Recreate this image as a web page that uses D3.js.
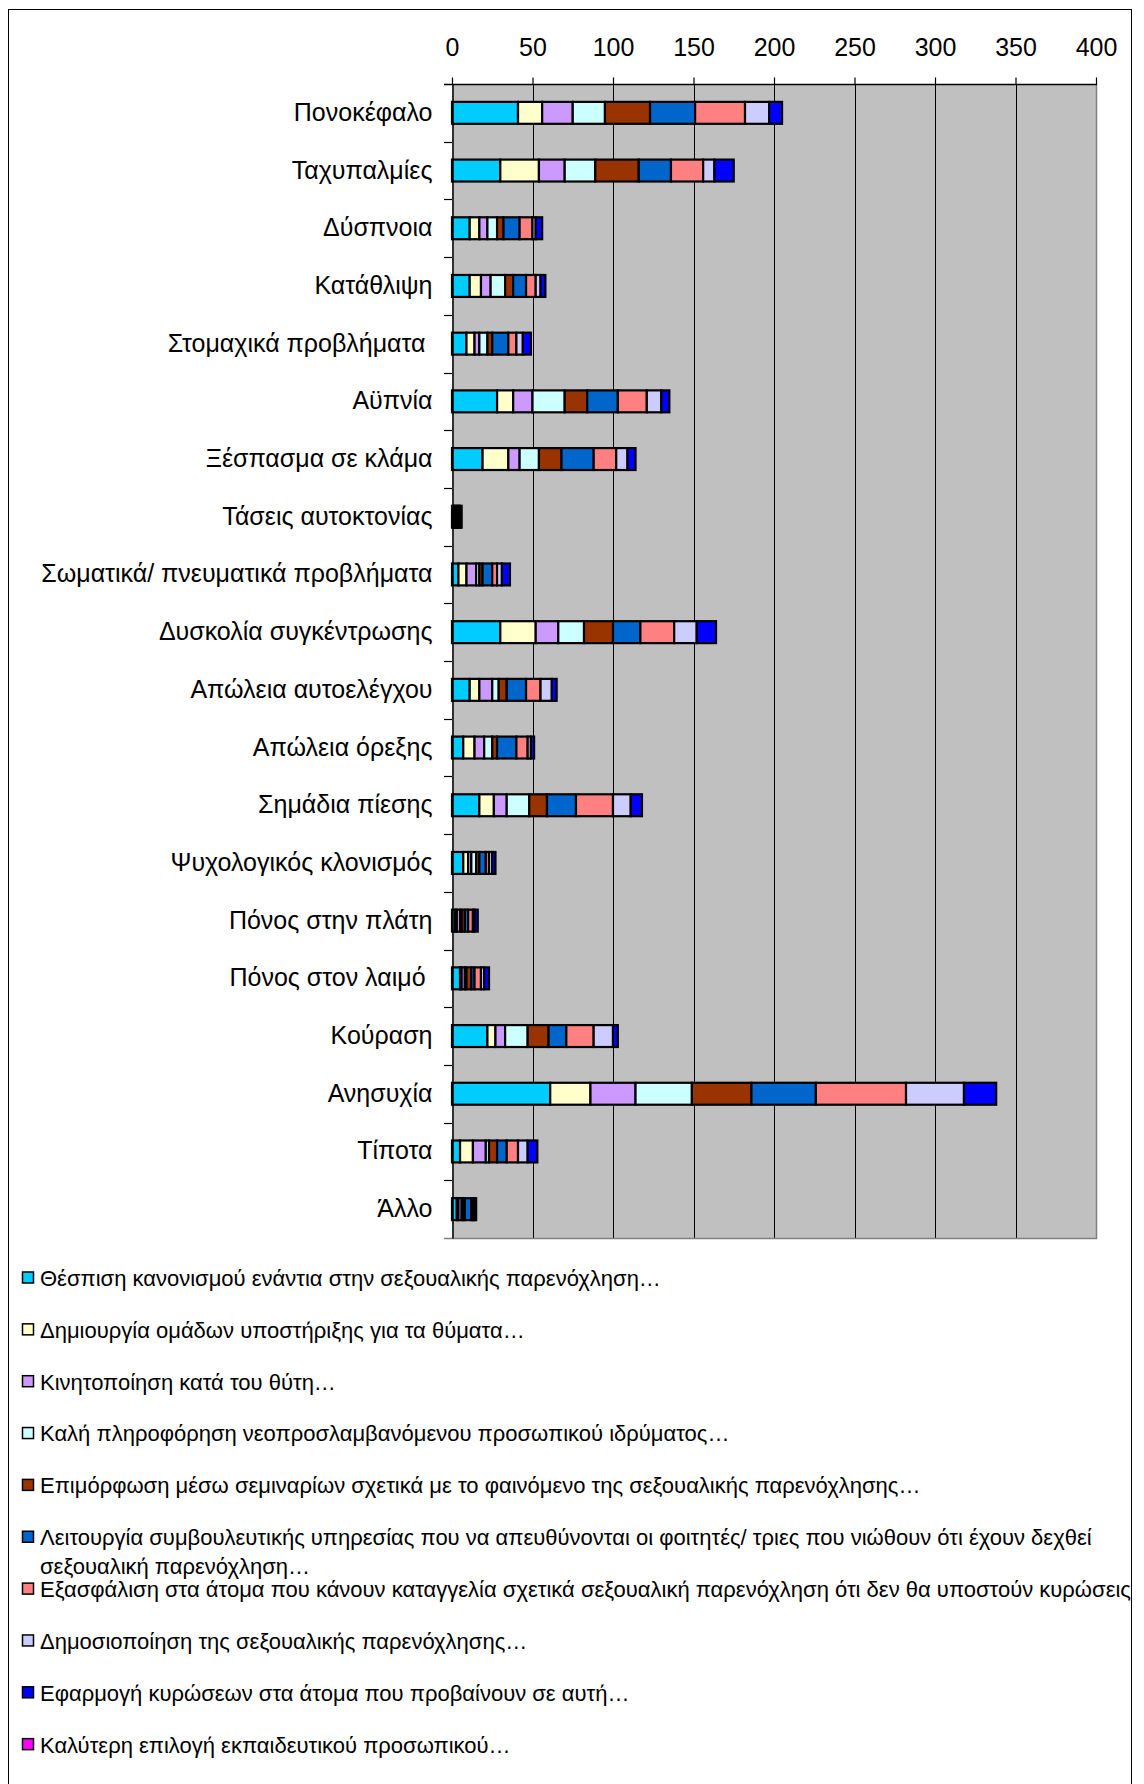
<!DOCTYPE html>
<html><head><meta charset="utf-8">
<script src="https://cdn.jsdelivr.net/npm/d3@7"></script>
<style>
body{margin:0;background:#fff}
svg text{font-family:Arial,"Liberation Sans",sans-serif;white-space:pre;fill:#000}
</style>
</head><body>
<svg id="chart" width="1144" height="1784"></svg>
<script>
// ---------- data ----------
const categories = [
  "Πονοκέφαλο","Ταχυπαλμίες","Δύσπνοια","Κατάθλιψη","Στομαχικά προβλήματα ",
  "Αϋπνία","Ξέσπασμα σε κλάμα","Τάσεις αυτοκτονίας","Σωματικά/ πνευματικά προβλήματα",
  "Δυσκολία συγκέντρωσης","Απώλεια αυτοελέγχου","Απώλεια όρεξης","Σημάδια πίεσης",
  "Ψυχολογικός κλονισμός","Πόνος στην πλάτη","Πόνος στον λαιμό ","Κούραση","Ανησυχία",
  "Τίποτα","Άλλο"
];
const seriesNames = [
  "Θέσπιση κανονισμού ενάντια στην σεξουαλικής παρενόχληση…",
  "Δημιουργία ομάδων υποστήριξης για τα θύματα…",
  "Κινητοποίηση κατά του θύτη…",
  "Καλή πληροφόρηση νεοπροσλαμβανόμενου προσωπικού ιδρύματος…",
  "Επιμόρφωση μέσω σεμιναρίων σχετικά με το φαινόμενο της σεξουαλικής παρενόχλησης…",
  "Λειτουργία συμβουλευτικής υπηρεσίας που να απευθύνονται οι φοιτητές/ τριες που νιώθουν ότι έχουν δεχθεί\nσεξουαλική παρενόχληση…",
  "Εξασφάλιση στα άτομα που κάνουν καταγγελία σχετικά σεξουαλική παρενόχληση ότι δεν θα υποστούν κυρώσεις",
  "Δημοσιοποίηση της σεξουαλικής παρενόχλησης…",
  "Εφαρμογή κυρώσεων στα άτομα που προβαίνουν σε αυτή…",
  "Καλύτερη επιλογή εκπαιδευτικού προσωπικού…"
];
const s1  = [41,30,11,11, 9,28,19,1, 4,30,11, 7,17,7,2,5,22,61,5,3];
const s2  = [15,24, 6, 7, 5,10,16,1, 5,22, 6, 7, 9,3,1,1, 5,25,8,1];
const s3  = [19,16, 5, 6, 3,12, 7,1, 6,14, 8, 6, 8,2,2,2, 6,28,8,2];
const s4  = [20,19, 6, 9, 5,20,12,0, 2,16, 4, 5,14,3,1,1,14,35,2,1];
const s5  = [28,27, 4, 5, 3,14,14,1, 2,18, 5, 3,11,2,2,3,13,37,5,1];
const s6  = [28,20,10, 8,10,19,20,1, 6,17,12,12,18,4,2,2,11,40,6,4];
const s7  = [31,20, 8, 6, 5,18,14,0, 3,21, 9, 7,23,2,3,4,17,56,7,1];
const s8  = [15, 7, 2, 3, 4, 9, 7,0, 3,14, 7, 2,11,2,1,2,12,36,6,1];
const s9  = [ 8,12, 4, 3, 5, 5, 5,1, 5,12, 3, 2, 7,2,2,3, 3,20,6,1];
const s10 = [ 0, 0, 0, 0, 0, 0, 0,0, 0, 0, 0, 0, 0,0,0,0, 0, 0,0,0];
const seriesValues = [s1,s2,s3,s4,s5,s6,s7,s8,s9,s10];
const xTickValues = [0,50,100,150,200,250,300,350,400];

// ---------- styles ----------
const seriesColors = ["#00CCFF","#FFFFCC","#CC99FF","#CCFFFF","#993300","#0066CC","#FF8080","#CCCCFF","#0000FF","#FF00FF"];

// ---------- layout ----------
const plot = {left:452, right:1096, top:84, bottom:1238};
const svg = d3.select("#chart");

// outer frame
svg.append("rect").attr("x",8.5).attr("y",9.5).attr("width",1123).attr("height",1800)
  .attr("fill","none").attr("stroke","#000").attr("stroke-width",1);

const x = d3.scaleLinear().domain([0,400]).range([plot.left, plot.right]);
const y = d3.scaleBand().domain(categories).range([plot.top, plot.bottom]).padding(0);

// plot background
svg.append("rect").attr("x",plot.left).attr("y",plot.top)
  .attr("width",plot.right-plot.left).attr("height",plot.bottom-plot.top)
  .attr("fill","#C0C0C0");

// gridlines
svg.append("g").selectAll("line").data(xTickValues.filter(v=>v>0 && v<400)).join("line")
  .attr("x1",d=>Math.round(x(d))+0.5).attr("x2",d=>Math.round(x(d))+0.5)
  .attr("y1",plot.top).attr("y2",plot.bottom)
  .attr("stroke","#000").attr("stroke-width",1);

// plot border (right, bottom)
svg.append("path")
  .attr("d",`M${plot.right+0.5},${plot.top}V${plot.bottom+0.5}H${plot.left-8}`)
  .attr("fill","none").attr("stroke","#808080").attr("stroke-width",1.5);

// stacked data
const table = categories.map((c,i)=>{
  const row = {cat:c};
  seriesNames.forEach((s,j)=>row["k"+j]=seriesValues[j][i]);
  return row;
});
const keys = seriesNames.map((s,j)=>"k"+j);
const stacked = d3.stack().keys(keys)(table);

const barH = y.bandwidth()*0.38;
const gBars = svg.append("g");
stacked.forEach((layer,j)=>{
  gBars.append("g").selectAll("rect")
    .data(layer.filter(d=>d[1]-d[0]>0)).join("rect")
    .attr("x",d=>x(d[0])).attr("width",d=>x(d[1])-x(d[0]))
    .attr("y",d=>y(d.data.cat)+(y.bandwidth()-barH)/2).attr("height",barH)
    .attr("fill",seriesColors[j]).attr("stroke","#000").attr("stroke-width",2.2);
});

// top axis
const xAxis = d3.axisTop(x).tickValues(xTickValues).tickSize(7).tickSizeOuter(0).tickPadding(22)
  .tickFormat(d3.format("d"));
const gx = svg.append("g").attr("transform",`translate(0,${plot.top+0.5})`).call(xAxis);
gx.select(".domain").attr("stroke","#000").attr("stroke-width",1.5).attr("d",`M${plot.left-8},0H${plot.right+1}`);
gx.selectAll(".tick line").attr("stroke","#000").attr("stroke-width",1.2);
gx.selectAll("text").attr("font-size",25).style("font-family","Arial, 'Liberation Sans', sans-serif");

// left axis
const yAxis = d3.axisLeft(y).tickSize(0).tickPadding(20);
const gy = svg.append("g").attr("transform",`translate(${plot.left+0.5},0)`).call(yAxis);
gy.select(".domain").attr("stroke","#000").attr("stroke-width",1.5);
gy.selectAll("text").attr("font-size",25).style("font-family","Arial, 'Liberation Sans', sans-serif");
// category boundary ticks
svg.append("g").selectAll("line").data(categories.slice(1)).join("line")
  .attr("x1",plot.left-8).attr("x2",plot.left)
  .attr("y1",d=>Math.round(y(d))+0.5).attr("y2",d=>Math.round(y(d))+0.5)
  .attr("stroke","#000").attr("stroke-width",1.2);

// legend
const legStartY = 1278, legStep = 51.85;
const gl = svg.append("g");
seriesNames.forEach((name,j)=>{
  const cy = legStartY + j*legStep;
  gl.append("rect").attr("x",22.5).attr("y",cy-6).attr("width",11).attr("height",11)
    .attr("fill",seriesColors[j]).attr("stroke","#000").attr("stroke-width",1.5);
  const t = gl.append("text").attr("x",40).attr("y",cy).attr("font-size",22);
  name.split("\n").forEach((line,k)=>{
    t.append("tspan").attr("x",40).attr("dy",k===0?"0.36em":"1.3em").text(line);
  });
});
</script>
</body></html>
